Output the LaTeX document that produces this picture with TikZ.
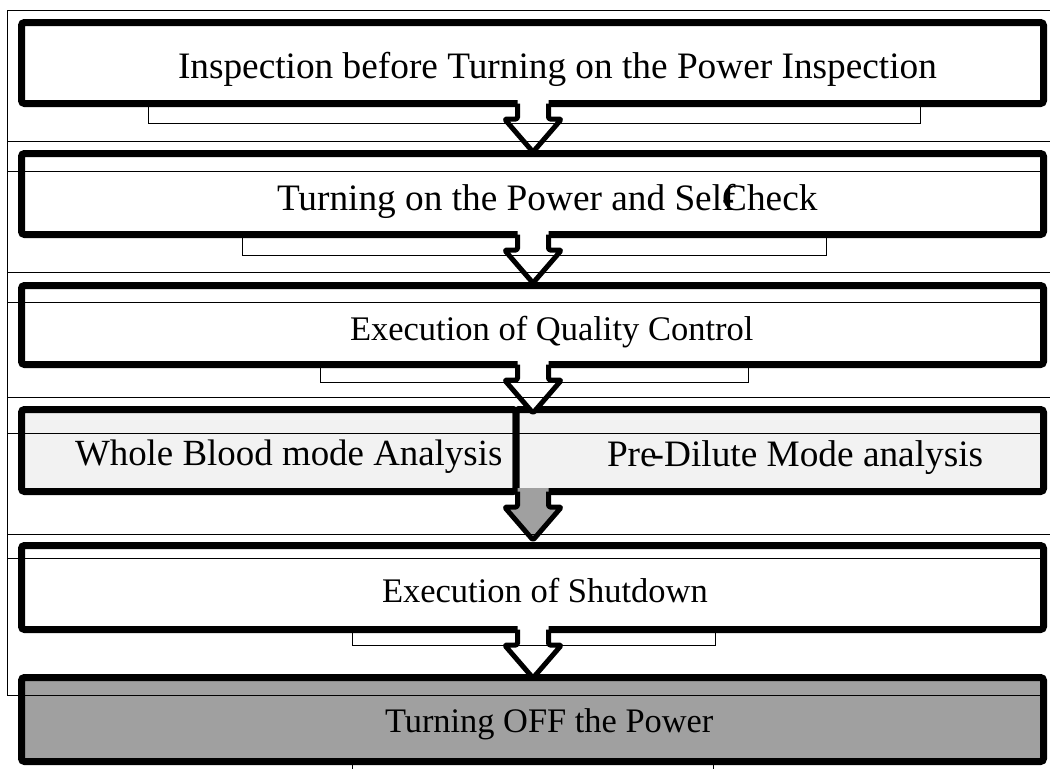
\documentclass[tikz,border=0pt]{standalone}
\usepackage{fontspec}
\setmainfont{Liberation Serif}
\usetikzlibrary{calc,shadows}
\definecolor{lightfill}{HTML}{F2F2F2}
\definecolor{darkfill}{HTML}{A0A0A0}
\tikzset{
  box/.style={draw=black, line width=7pt, rounded corners=3pt, outer sep=0pt, inner sep=0pt,
    drop shadow={shadow xshift=1.5pt, shadow yshift=-3pt, opacity=0.3, fill=black}},
  txt/.style={anchor=base west, inner sep=0pt, outer sep=0pt},
  thinline/.style={line width=0.9pt, black},
  arrowline/.style={line width=5pt, line join=round, rounded corners=1.5pt}
}
\newcommand\flowarrow[3]{% #1 from node, #2 to node, #3 fill
  \path[fill=#3] let \p1=(#1.south) in
    (517.5pt,\y1+3.5pt) -- (517.5pt,\y1-15.5pt) -- (504.5pt,\y1-15.5pt) -- (533pt,\y1-48.5pt)
    -- (561.5pt,\y1-15.5pt) -- (548.5pt,\y1-15.5pt) -- (548.5pt,\y1+3.5pt) -- cycle;
  \draw[arrowline] let \p1=(#1.south) in
    (517.5pt,\y1) -- (517.5pt,\y1-15.5pt) -- (504.5pt,\y1-15.5pt) -- (533pt,\y1-48.5pt)
    -- (561.5pt,\y1-15.5pt) -- (548.5pt,\y1-15.5pt) -- (548.5pt,\y1);
}
\begin{document}
\begin{tikzpicture}[x=1pt,y=-1pt]
\useasboundingbox[fill=white] (0,0) rectangle (1050,769);
% boxes
\node[box, fill=white, minimum width=1022pt, minimum height=81pt] (b1) at (532.5,63) {};
\node[box, fill=white, minimum width=1022pt, minimum height=81pt] (b2) at (532.5,194) {};
\node[box, fill=white, minimum width=1022pt, minimum height=79pt] (b3) at (532.5,325) {};
\node[box, fill=lightfill, minimum width=494.5pt, minimum height=82pt] (b4l) at (268.75,450.5) {};
\node[box, fill=lightfill, minimum width=527.5pt, minimum height=82pt] (b4r) at (779.75,450.5) {};
\node[box, fill=white, minimum width=1022pt, minimum height=84pt] (b5) at (532.5,587.5) {};
\node[box, fill=darkfill, minimum width=1022pt, minimum height=84pt] (b6) at (532.5,719.5) {};
% arrows
\flowarrow{b1}{b2}{white}
\flowarrow{b2}{b3}{white}
\flowarrow{b3}{b4r}{white}
\flowarrow{b4r}{b5}{darkfill}
\flowarrow{b5}{b6}{white}
% thin frame and rules
\draw[thinline] (1050,10) -- (7,10) -- (7,695) -- (1043,695);
\foreach \yy in {141,272,397,534} \draw[thinline] (7,\yy) -- (1050,\yy);
\foreach \yy in {171,302,433,558} \draw[thinline] (7,\yy) -- (1043,\yy);
% brackets
\draw[thinline] (148,107) -- (148,123) -- (920,123) -- (920,107);
\draw[thinline] (242,238) -- (242,255) -- (826,255) -- (826,238);
\draw[thinline] (320,368) -- (320,382) -- (748,382) -- (748,368);
\draw[thinline] (352,633) -- (352,645) -- (715,645) -- (715,633);
\draw[thinline] (352,765) -- (352,769);
\draw[thinline] (713,765) -- (713,769);
% texts
\node[txt] (t1) at (178,78) {\fontsize{37.3}{40}\selectfont Inspection before Turning on the Power Inspection};
\node[txt] (t2) at (277,210) {\fontsize{37.3}{40}\selectfont Turning on the Power and Sel\rlap{-}\rlap{\kern1pt f}Check};
\node[txt] (t3) at (350,340) {\fontsize{34.5}{38}\selectfont Execution of Quality Control};
\node[txt] (t4) at (75,465) {\fontsize{36.9}{40}\selectfont Whole Blood mode Analysis};
\node[txt] (t5) at (607,466) {\fontsize{37.3}{40}\selectfont Pre\kern-5pt-Dilute Mode analysis};
\node[txt] (t6) at (382,602) {\fontsize{34.5}{38}\selectfont Execution of Shutdown};
\node[txt] (t7) at (385,732) {\fontsize{34.4}{38}\selectfont Turning OFF the Power};
\end{tikzpicture}
\end{document}
